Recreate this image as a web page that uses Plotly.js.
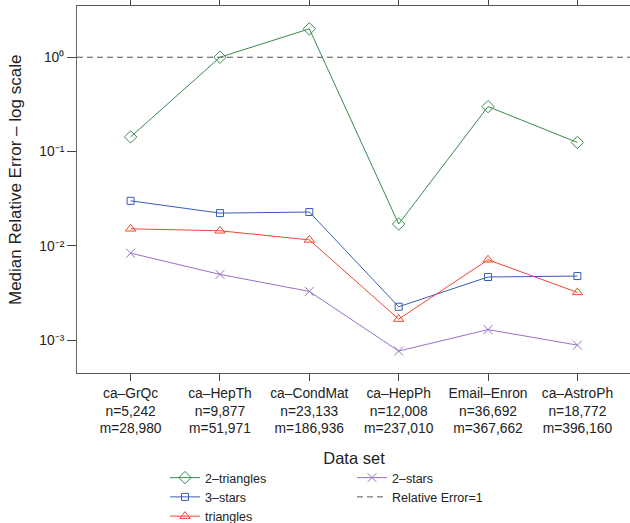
<!DOCTYPE html>
<html><head><meta charset="utf-8">
<script src="https://cdn.plot.ly/plotly-3.0.1.min.js"></script>
<style>html,body{margin:0;padding:0;overflow:hidden;background:#fff}</style>
</head><body><div id="chart" style="width:631px;height:523px"></div>
<script>
const categories = ['ca–GrQc','ca–HepTh','ca–CondMat','ca–HepPh','Email–Enron','ca–AstroPh'];
const nodeCounts = ['5,242','9,877','23,133','12,008','36,692','18,772'];
const edgeCounts = ['28,980','51,971','186,936','237,010','367,662','396,160'];
const twoTriangles = [0.143, 1.0, 2.0, 0.0171, 0.300, 0.125];
const threeStars = [0.0301, 0.0223, 0.0229, 0.00227, 0.00469, 0.0048];
const triangles = [0.0152, 0.0145, 0.0116, 0.00168, 0.00714, 0.00322];
const twoStars = [0.0084, 0.0050, 0.0033, 0.00077, 0.0013, 0.00089];
const refValue = [1];
const yTickVals = [0.001, 0.01, 0.1, 1];
const yTickText = ['10⁻³','10⁻²','10⁻¹','10⁰'];
const yTitle = 'Median Relative Error – log scale';

const FONT = 'Liberation Sans, Arial, Helvetica, sans-serif';
const xTickText = categories.map((c, i) => c + '<br>n=' + nodeCounts[i] + '<br>m=' + edgeCounts[i]);

function series(name, y, color, symbol, size, legend) {
  return {
    type: 'scatter', mode: 'lines+markers', x: categories, y: y, name: name, legend: legend,
    line: {color: color, width: 1},
    marker: {symbol: symbol, size: size, color: color, line: {color: color, width: 1}},
    cliponaxis: false
  };
}

const data = [
  series('2–triangles', twoTriangles, '#3a8a4c', 'diamond-open', 9.5, 'legend'),
  series('3–stars', threeStars, '#3a5cb8', 'square-open', 7, 'legend'),
  series('triangles', triangles, '#f0472f', 'triangle-up-open', 9, 'legend'),
  series('2–stars', twoStars, '#9a70c2', 'x-thin-open', 9, 'legend2')
];

const layout = {
  width: 631, height: 523,
  margin: {l: 77, r: 0, t: 6, b: 150, autoexpand: false},
  paper_bgcolor: '#fff', plot_bgcolor: '#fff',
  font: {family: FONT, color: '#222'},
  showlegend: true,
  xaxis: {
    type: 'category', range: [-0.6, 5.6],
    tickvals: categories, ticktext: xTickText, tickangle: 0,
    ticks: 'outside', ticklen: 7, tickcolor: '#444', tickwidth: 1,
    showline: true, mirror: 'ticks', linecolor: '#555', linewidth: 1,
    showgrid: false, zeroline: false,
    tickfont: {size: 13.8, family: FONT, color: '#222'},
    title: {text: 'Data set', font: {size: 16.5, family: FONT, color: '#222'}, standoff: 17},
    automargin: true
  },
  yaxis: {
    type: 'log', range: [-3.346, 0.543],
    tickvals: yTickVals, ticktext: yTickText,
    ticks: 'outside', ticklen: 9, tickcolor: '#444', tickwidth: 1,
    showline: true, mirror: false, linecolor: '#666', linewidth: 1,
    showgrid: false, zeroline: false,
    tickfont: {size: 13.8, family: FONT, color: '#222'},
    automargin: false
  },
  annotations: [{
    text: yTitle, textangle: -90, showarrow: false,
    xref: 'paper', yref: 'paper', x: (15 - 77) / 554, y: (373 - 180) / 367,
    xanchor: 'center', yanchor: 'middle',
    font: {size: 17, family: FONT, color: '#222'}
  }],
  shapes: [{
    type: 'line', xref: 'paper', x0: 0, x1: 1, yref: 'y', y0: refValue[0], y1: refValue[0],
    line: {color: '#555', width: 1, dash: '6px,4px'},
    showlegend: true, name: 'Relative Error=1', legend: 'legend2', layer: 'below'
  }],
  legend: {
    xref: 'container', yref: 'container', x: 165/631, y: 1 - 463/523, xanchor: 'left', yanchor: 'top',
    orientation: 'v', font: {size: 12.5, family: FONT, color: '#222'}, bgcolor: 'rgba(0,0,0,0)', borderwidth: 0
  },
  legend2: {
    xref: 'container', yref: 'container', x: 352/631, y: 1 - 463/523, xanchor: 'left', yanchor: 'top',
    orientation: 'v', font: {size: 12.5, family: FONT, color: '#222'}, bgcolor: 'rgba(0,0,0,0)', borderwidth: 0
  }
};

Plotly.newPlot('chart', data, layout, {displayModeBar: false, staticPlot: true});
</script>
</body></html>
